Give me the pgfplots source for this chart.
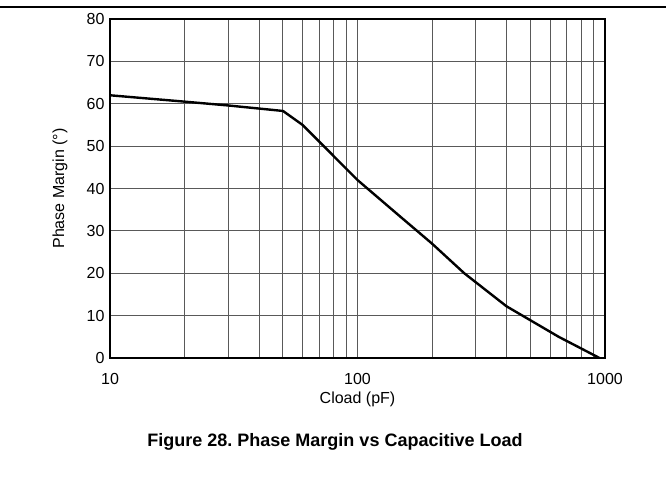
\documentclass[border=0pt]{standalone}
\usepackage{fontspec}
\setmainfont{Liberation Sans}
\usepackage{pgfplots}
\pgfplotsset{compat=1.18}
\frenchspacing
\begin{document}
\begin{tikzpicture}
\useasboundingbox (0,0) rectangle (669pt,-486pt);
\draw[line width=1.3pt] (0,-7pt) -- (666pt,-7pt);
\begin{axis}[
  at={(110pt,-358pt)}, anchor=south west,
  scale only axis, width=495pt, height=339pt,
  xmode=log, xmin=10, xmax=1000, ymin=0, ymax=80,
  xtick={10,100,1000}, xticklabels={10,100,1000},
  ytick={0,10,...,80},
  minor xtick={20,30,40,50,60,70,80,90,200,300,400,500,600,700,800,900},
  grid=both,
  major grid style={black!65, line width=1pt},
  minor grid style={black!65, line width=1pt},
  axis line style={line width=2.8pt},
  tick style={draw=none},
  /pgf/number format/assume math mode=true,
  tick label style={font=\fontsize{16pt}{18pt}\selectfont},
  xticklabel style={yshift=-12pt},
  yticklabel style={xshift=-2pt},
  label style={font=\fontsize{16pt}{18pt}\selectfont},
  xlabel={Cload (pF)},
  xlabel style={at={(axis description cs:0.5,0)}, anchor=center, yshift=-41pt},
  ylabel={Phase Margin (°)},
  ylabel style={at={(axis description cs:0,0.5)}, anchor=center, yshift=50pt},
]
\addplot[black, line width=2.4pt] coordinates {
(10,62) (20,60.5) (30,59.6) (50,58.3) (60,55) (100,42) (150,33.2) (200,27) (270,20) (400,12.2) (650,5) (950,0)
};
\end{axis}
\node[font=\bfseries\fontsize{18pt}{20pt}\selectfont] at (335pt,-442pt) {Figure 28. Phase Margin vs Capacitive Load};
\end{tikzpicture}
\end{document}
